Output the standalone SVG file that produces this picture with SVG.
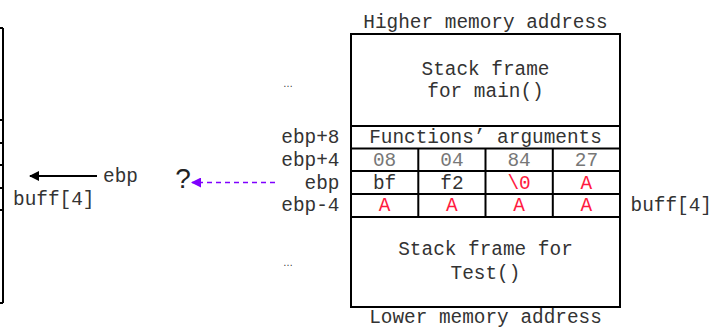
<svg xmlns="http://www.w3.org/2000/svg" width="717" height="329" viewBox="0 0 717 329">
<style>
.t{font-family:"Liberation Mono","Courier New",monospace;font-size:19.4px;fill:#333}
.c{text-anchor:middle}
.r{text-anchor:end}
.g{fill:#777}
.red{fill:#ff1a40}
.ln{stroke:#000;stroke-width:2;fill:none}
</style>
<defs>
<marker id="ab" viewBox="0 0 10 10" refX="9" refY="5" markerWidth="12" markerHeight="10" markerUnits="userSpaceOnUse" orient="auto">
<path d="M0,0 L10,5 L0,10 z" fill="#000"/>
</marker>
<marker id="ap" viewBox="0 0 10 10" refX="9" refY="5" markerWidth="11" markerHeight="10" markerUnits="userSpaceOnUse" orient="auto">
<path d="M0,0 L10,5 L0,10 z" fill="#7f00ff"/>
</marker>
</defs>
<g id="left-stack">
<path class="ln" d="M3,28 V303 M0,28 H3 M0,120 H3 M0,143 H3 M0,165 H3 M0,188 H3 M0,210 H3 M0,303 H3"/>
<text class="t" x="103" y="182">ebp</text>
<text class="t" x="13" y="205">buff[4]</text>
</g>
<g id="question">
<text x="183" y="188" font-family="Liberation Sans,Arial,sans-serif" font-size="28" fill="#222" text-anchor="middle">?</text>
</g>
<g id="stack">
<rect class="ln" x="351" y="34" width="269" height="273"/>
<path class="ln" d="M351,126 H620 M351,148.5 H620 M351,171 H620 M351,194 H620 M351,217 H620 M418.3,148.5 V217 M485.5,148.5 V217 M552.8,148.5 V217"/>
<text class="t c" x="485.5" y="28">Higher memory address</text>
<text class="t c" x="485.5" y="75">Stack frame</text>
<text class="t c" x="485.5" y="97">for main()</text>
<text class="t c" x="485.5" y="143">Functions’ arguments</text>
<text class="t c g" x="384.6" y="165.5">08</text>
<text class="t c g" x="451.9" y="165.5">04</text>
<text class="t c g" x="519.1" y="165.5">84</text>
<text class="t c g" x="586.4" y="165.5">27</text>
<text class="t c" x="384.6" y="188.5">bf</text>
<text class="t c" x="451.9" y="188.5">f2</text>
<text class="t c red" x="519.1" y="188.5">\0</text>
<text class="t c red" x="586.4" y="188.5">A</text>
<text class="t c red" x="384.6" y="211">A</text>
<text class="t c red" x="451.9" y="211">A</text>
<text class="t c red" x="519.1" y="211">A</text>
<text class="t c red" x="586.4" y="211">A</text>
<text class="t c" x="485.5" y="255">Stack frame for</text>
<text class="t c" x="485.5" y="278.5">Test()</text>
<text class="t c" x="485.5" y="323">Lower memory address</text>
</g>
<g id="labels">
<text class="t r" x="339.5" y="143">ebp+8</text>
<text class="t r" x="339.5" y="165.5">ebp+4</text>
<text class="t r" x="339.5" y="188.5">ebp</text>
<text class="t r" x="339.5" y="211">ebp-4</text>
<text class="t" x="630.5" y="211">buff[4]</text>
<text x="288" y="87" font-family="Liberation Sans,Arial,sans-serif" font-size="10" fill="#333" text-anchor="middle">…</text>
<text x="288" y="266" font-family="Liberation Sans,Arial,sans-serif" font-size="10" fill="#333" text-anchor="middle">…</text>
</g>
<g id="connectors">
<line x1="97" y1="176" x2="30" y2="176" stroke="#000" stroke-width="2" marker-end="url(#ab)"/>
<line x1="275" y1="182.5" x2="192" y2="182.5" stroke="#7f00ff" stroke-width="1.5" stroke-dasharray="5,4" marker-end="url(#ap)"/>
</g>
</svg>
